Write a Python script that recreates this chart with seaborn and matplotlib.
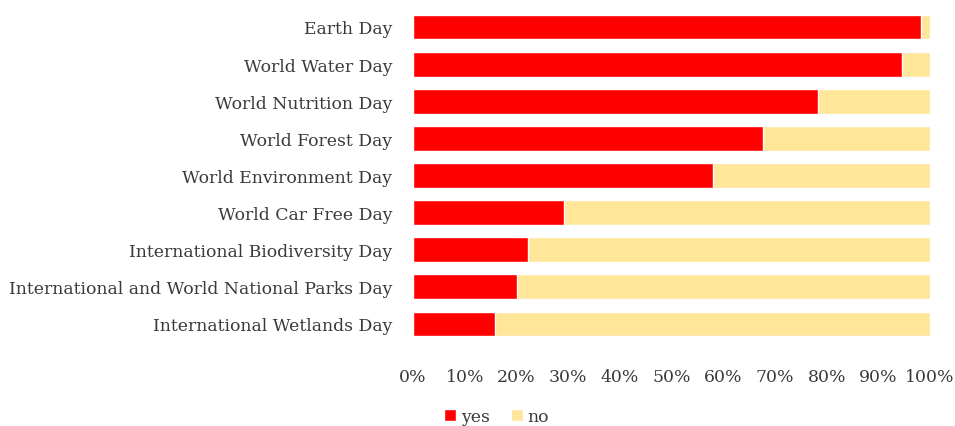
import pandas as pd
import matplotlib.pyplot as plt
import seaborn as sns
from matplotlib.patches import Patch
from matplotlib.ticker import PercentFormatter

days = [
    "Earth Day",
    "World Water Day",
    "World Nutrition Day",
    "World Forest Day",
    "World Environment Day",
    "World Car Free Day",
    "International Biodiversity Day",
    "International and World National Parks Day",
    "International Wetlands Day",
]
yes = [98.3, 94.6, 78.4, 67.6, 58.1, 29.1, 22.3, 20.1, 15.8]
no = [1.7, 5.4, 21.6, 32.4, 41.9, 70.9, 77.7, 79.9, 84.2]

df = pd.DataFrame({"day": days, "yes": yes, "no": no})
df["total"] = df["yes"] + df["no"]

sns.set_theme(style="white")
plt.rcParams["font.family"] = ["DejaVu Serif"]

red = "#FF0000"
gold = "#FFE699"
text_col = "#3a3a3a"

fig = plt.figure(figsize=(9.55, 4.27), dpi=100)
ax = fig.add_axes([0.4325, 0.1955, 0.5415, 0.7825])

# yellow full-length bar underneath, red "yes" share on top
sns.barplot(data=df, y="day", x="total", color=gold, orient="h",
            width=0.67, saturation=1, ax=ax)
sns.barplot(data=df, y="day", x="yes", color=red, orient="h",
            width=0.67, saturation=1, ax=ax)

ax.set_xlim(0, 100)
ax.set_ylim(8.5, -0.5)
ax.set_xticks(range(0, 101, 10))
ax.xaxis.set_major_formatter(PercentFormatter(decimals=0))
ax.set_xlabel("")
ax.set_ylabel("")
ax.tick_params(axis="both", length=0, labelsize=12.4, colors=text_col)
ax.tick_params(axis="x", pad=18)
ax.tick_params(axis="y", pad=15)
for s in ax.spines.values():
    s.set_visible(False)

handles = [Patch(facecolor=red, label="yes"), Patch(facecolor=gold, label="no")]
fig.legend(handles=handles, loc="center", bbox_to_anchor=(0.52, 0.022),
           ncol=2, frameon=False, fontsize=12.4, handlelength=0.7,
           handleheight=0.7, handletextpad=0.3, columnspacing=1.2,
           labelcolor=text_col)

fig.savefig("out.png", dpi=100)
